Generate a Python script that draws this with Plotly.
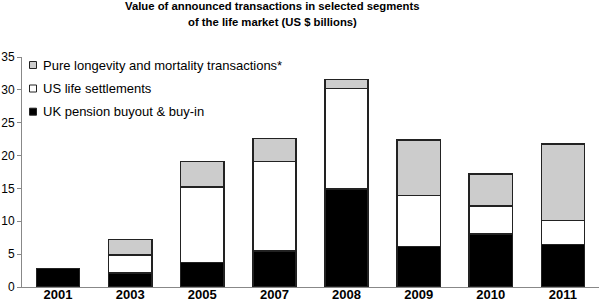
import plotly.graph_objects as go

years = ["2001", "2003", "2005", "2007", "2008", "2009", "2010", "2011"]
uk_pension = [2.8, 2.1, 3.75, 5.5, 14.9, 6.2, 8.1, 6.45]
us_life = [0, 2.8, 11.45, 13.6, 15.3, 7.75, 4.25, 3.7]
pure_longevity = [0, 2.3, 3.9, 3.5, 1.4, 8.45, 4.85, 11.6]
y_ticks = [0, 5, 10, 15, 20, 25, 30, 35]

series_names = ["Pure longevity and mortality transactions*", "US life settlements", "UK pension buyout &amp; buy-in"]
series_colors = ["#cccccc", "#ffffff", "#000000"]

font = "Liberation Sans, Arial, sans-serif"
line = dict(color="#222222", width=1.5)

W, H = 599, 303
L, R, T, B = 22, 0, 57, 16
PW, PH = W - L - R, H - T - B

def px_x(x):
    return (x - L) / PW

def px_y(y):
    return (H - B - y) / PH

fig = go.Figure()
fig.add_bar(x=years, y=uk_pension, name=series_names[2],
            marker=dict(color=series_colors[2], line=line))
fig.add_bar(x=years, y=us_life, name=series_names[1],
            marker=dict(color=series_colors[1], line=line))
fig.add_bar(x=years, y=pure_longevity, name=series_names[0],
            marker=dict(color=series_colors[0], line=line))

shapes = []
annotations = []
legend_rows = [65, 88.5, 111.7]
for name, color, yc in zip(series_names, series_colors, legend_rows):
    shapes.append(dict(type="rect", xref="paper", yref="paper",
                       x0=px_x(29.5), x1=px_x(36.5), y0=px_y(yc + 3.5), y1=px_y(yc - 3.5),
                       fillcolor=color, line=dict(color="#222222", width=1)))
    annotations.append(dict(text=name, xref="paper", yref="paper",
                            x=px_x(41), y=px_y(yc), xanchor="left", yanchor="middle",
                            showarrow=False, font=dict(size=13, family=font)))

title_lines = ["Value of announced transactions in selected segments",
               "of the life market (US $ billions)"]
for txt, yc in zip(title_lines, [6, 22]):
    annotations.append(dict(text="<b>" + txt + "</b>", xref="paper", yref="paper",
                            x=px_x(272), y=px_y(yc), xanchor="center", yanchor="middle",
                            showarrow=False, font=dict(size=11.3, family=font)))

fig.update_layout(
    width=W, height=H,
    barmode="stack", bargap=0.4,
    plot_bgcolor="white", paper_bgcolor="white",
    margin=dict(l=L, r=R, t=T, b=B),
    font=dict(family=font, size=12, color="#000000"),
    showlegend=False,
    shapes=shapes,
    annotations=annotations,
)
fig.update_xaxes(showline=True, linecolor="#888888", linewidth=1,
                 ticks="", tickfont=dict(size=13, family=font),
                 tickprefix="<b>", ticksuffix="</b>", automargin=False,
                 ticklabelstandoff=-5)
fig.update_yaxes(range=[0, 35], tickvals=y_ticks, showline=True,
                 linecolor="#888888", linewidth=1, ticks="outside",
                 ticklen=4, tickcolor="#888888", showgrid=False,
                 zeroline=False, tickfont=dict(size=12, family=font), automargin=False)

fig.write_html("out.html", config={"displayModeBar": False},
               post_script="document.body.style.margin='0';document.body.style.overflow='hidden';")
